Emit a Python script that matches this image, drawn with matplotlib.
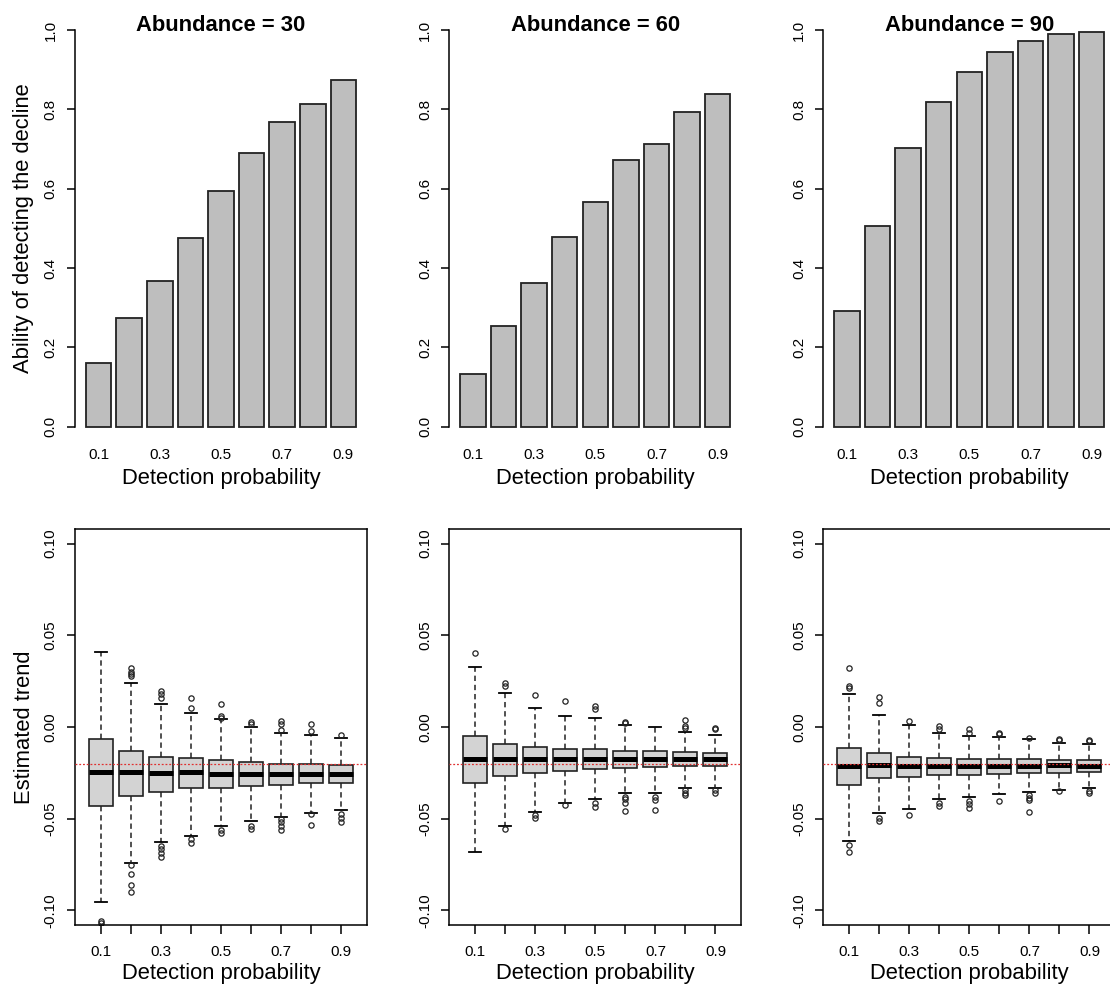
import numpy as np
import matplotlib
matplotlib.use('Agg')
import matplotlib.pyplot as plt

plt.rcParams['font.family'] = ['Liberation Sans', 'DejaVu Sans']
plt.rcParams['axes.unicode_minus'] = False

abundances = [30, 60, 90]
detection = ['0.1', '0.2', '0.3', '0.4', '0.5', '0.6', '0.7', '0.8', '0.9']

# proportion of runs where the decline was detected
power_30 = [0.160, 0.273, 0.367, 0.475, 0.593, 0.691, 0.767, 0.813, 0.873]
power_60 = [0.133, 0.254, 0.363, 0.477, 0.567, 0.671, 0.712, 0.792, 0.839]
power_90 = [0.292, 0.506, 0.703, 0.818, 0.894, 0.945, 0.971, 0.989, 0.996]

# estimated trend, boxplot summaries
lo_30 = [-0.0955, -0.074, -0.0627, -0.0595, -0.054, -0.051, -0.049, -0.047, -0.0455]
q1_30 = [-0.0433, -0.0376, -0.0353, -0.0335, -0.0331, -0.0322, -0.0316, -0.0307, -0.0304]
med_30 = [-0.0244, -0.0244, -0.0253, -0.0247, -0.0255, -0.0255, -0.0255, -0.0255, -0.0258]
q3_30 = [-0.0067, -0.0131, -0.0162, -0.0167, -0.018, -0.0193, -0.020, -0.020, -0.0205]
hi_30 = [0.041, 0.0238, 0.0127, 0.0075, 0.0042, -0.0002, -0.0031, -0.0042, -0.006]
out_30 = [
    [-0.1058, -0.1067],
    [0.032, 0.030, 0.029, 0.028, -0.0755, -0.080, -0.086, -0.090],
    [0.0196, 0.0178, 0.016, -0.065, -0.0667, -0.0685, -0.0707],
    [0.0158, 0.0102, -0.0613, -0.0635],
    [0.0125, 0.006, 0.0051, -0.056, -0.058],
    [0.0027, 0.0018, -0.054, -0.0558],
    [0.0033, 0.0015, -0.0016, -0.050, -0.052, -0.054, -0.056],
    [0.0018, -0.0022, -0.0476, -0.0535],
    [-0.0045, -0.0473, -0.0495, -0.052],
]

lo_60 = [-0.068, -0.054, -0.0462, -0.0413, -0.0395, -0.0358, -0.0362, -0.0331, -0.0331]
q1_60 = [-0.0307, -0.0267, -0.0249, -0.024, -0.0231, -0.0222, -0.0218, -0.0213, -0.0213]
med_60 = [-0.0173, -0.0173, -0.0173, -0.0173, -0.0173, -0.0176, -0.0176, -0.0173, -0.0176]
q3_60 = [-0.0049, -0.0095, -0.0107, -0.012, -0.012, -0.0131, -0.0131, -0.0136, -0.014]
hi_60 = [0.0327, 0.0184, 0.0104, 0.0062, 0.0049, 0.0009, 0.000, -0.0025, -0.0044]
out_60 = [
    [0.0405],
    [0.0242, 0.0224, -0.0555],
    [0.0176, -0.048, -0.0495],
    [0.0144, -0.0427],
    [0.0115, 0.0096, -0.0413, -0.0435],
    [0.0027, 0.0024, -0.038, -0.0395, -0.0416, -0.0458],
    [-0.0382, -0.0398, -0.0455],
    [0.0038, 0.0005, -0.0004, -0.0344, -0.0358, -0.0371],
    [-0.0005, -0.0013, -0.0344, -0.0358],
]

lo_90 = [-0.0622, -0.0471, -0.0445, -0.0395, -0.0382, -0.0367, -0.0353, -0.0345, -0.0335]
q1_90 = [-0.0316, -0.0276, -0.0273, -0.026, -0.026, -0.0255, -0.0251, -0.0249, -0.0245]
med_90 = [-0.0213, -0.0209, -0.0213, -0.0213, -0.0213, -0.0213, -0.0213, -0.0209, -0.0213]
q3_90 = [-0.0113, -0.0144, -0.0164, -0.0169, -0.0173, -0.0173, -0.0176, -0.0178, -0.0178]
hi_90 = [0.0182, 0.0064, 0.0009, -0.0031, -0.0049, -0.0055, -0.0067, -0.0085, -0.0091]
out_90 = [
    [0.0324, 0.0224, 0.0215, -0.0645, -0.068],
    [0.0165, 0.0133, -0.0495, -0.0513],
    [0.0033, -0.048],
    [0.0005, -0.0013, -0.0413, -0.0431],
    [-0.0013, -0.0031, -0.0404, -0.0422, -0.044],
    [-0.0031, -0.004, -0.0405],
    [-0.0062, -0.0373, -0.0385, -0.04, -0.0462],
    [-0.0064, -0.0071, -0.035],
    [-0.0071, -0.0076, -0.035, -0.0362],
]

true_trend = -0.02

powers = [power_30, power_60, power_90]
box_data = [
    (lo_30, q1_30, med_30, q3_30, hi_30, out_30),
    (lo_60, q1_60, med_60, q3_60, hi_60, out_60),
    (lo_90, q1_90, med_90, q3_90, hi_90, out_90),
]

W, H = 1110, 985
fig = plt.figure(figsize=(W / 100, H / 100), dpi=100)

col_left = [75, 449.3, 823.3]
panel_w = 292
edge = '#222222'
lab_size = 15.8
tick_size = 11

for k, a in enumerate(abundances):
    # --- top row: bars ---
    ax = fig.add_axes([col_left[k] / W, 1 - 442.5 / H, panel_w / W, 428.4 / H])
    idx = np.arange(len(detection))
    ax.bar(idx, powers[k], width=1 / 1.2, color='#BEBEBE',
           edgecolor=edge, linewidth=1.3)
    ax.set_xlim(-0.77, 8.77)
    ax.set_ylim(-0.04, 1.04)
    for s in ['top', 'right', 'bottom']:
        ax.spines[s].set_visible(False)
    ax.spines['left'].set_bounds(0, 1)
    ax.spines['left'].set_linewidth(1.1)
    yt = np.arange(0, 1.01, 0.2)
    ax.set_yticks(yt, [f"{v:.1f}" for v in yt], rotation=90, va='center')
    ax.set_xticks(idx[::2], detection[::2])
    ax.tick_params(axis='y', length=6, width=1.1, pad=6.5, labelsize=tick_size)
    ax.tick_params(axis='x', length=0, pad=4, labelsize=tick_size)
    ax.set_xlabel('Detection probability', fontsize=lab_size, va='top')
    ax.xaxis.set_label_coords(0.5, -0.0602)
    ax.text(0.5, 0.9613, f"Abundance = {a}", transform=ax.transAxes,
            ha='center', va='baseline', fontsize=lab_size, fontweight='bold')
    if k == 0:
        ax.set_ylabel('Ability of detecting the decline', fontsize=lab_size,
                      va='center', ha='center')
        ax.yaxis.set_label_coords(-51 / panel_w, 0.5)

    # --- bottom row: boxplots ---
    ax = fig.add_axes([col_left[k] / W, 1 - 925 / H, panel_w / W, 396 / H])
    lo, q1, med, q3, hi, out = box_data[k]
    stats = [dict(whislo=lo[i], q1=q1[i], med=med[i], q3=q3[i],
                  whishi=hi[i], fliers=out[i]) for i in range(len(detection))]
    ax.bxp(stats, positions=np.arange(1, 10), widths=0.8, capwidths=0.4,
           patch_artist=True,
           boxprops=dict(facecolor='#D3D3D3', edgecolor=edge, linewidth=1.2),
           medianprops=dict(color='black', linewidth=3.6, solid_capstyle='butt'),
           whiskerprops=dict(color=edge, linestyle=(0, (3.5, 2.5)), linewidth=1.1),
           capprops=dict(color='black', linewidth=1.3),
           flierprops=dict(marker='o', markersize=3.8, markerfacecolor='none',
                           markeredgecolor=edge, markeredgewidth=0.9))
    ax.axhline(true_trend, color='#E03030', linestyle=(0, (1.5, 1.5)),
               linewidth=0.9, zorder=5)
    ax.set_xlim(0.14, 9.86)
    ax.set_ylim(-0.108, 0.108)
    for s in ax.spines.values():
        s.set_linewidth(1.1)
    yt = [-0.10, -0.05, 0.0, 0.05, 0.10]
    ax.set_yticks(yt, [f"{v:.2f}" for v in yt], rotation=90, va='center')
    ax.set_xticks(np.arange(1, 10),
                  [d if i % 2 == 0 else '' for i, d in enumerate(detection)])
    ax.tick_params(axis='y', length=6, width=1.1, pad=6.5, labelsize=tick_size)
    ax.tick_params(axis='x', length=6.5, width=1.1, pad=8.0, labelsize=tick_size)
    ax.set_xlabel('Detection probability', fontsize=lab_size, va='top')
    ax.xaxis.set_label_coords(0.5, -0.096)
    if k == 0:
        ax.set_ylabel('Estimated trend', fontsize=lab_size, va='center', ha='center')
        ax.yaxis.set_label_coords(-51 / panel_w, 0.5)

fig.savefig('out.png', dpi=100)
